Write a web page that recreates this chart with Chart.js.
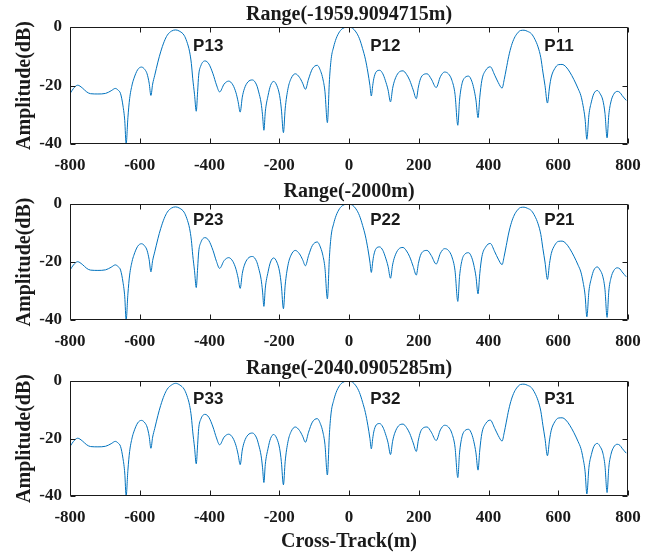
<!DOCTYPE html>
<html>
  <head>
    <meta charset="UTF-8" />
    <script src="https://cdn.jsdelivr.net/npm/chart.js"></script>
    <style>
      body { margin: 0; background: #fff; }
      #wrap { position: relative; width: 668px; height: 554px; }
      #wrap canvas { position: absolute; left: 0; }
    </style>
  </head>
  <body>
    <div id="wrap">
      <canvas id="panel1" width="668" height="177" style="top: 0px"></canvas>
      <canvas id="panel2" width="668" height="177" style="top: 177px"></canvas>
      <canvas id="panel3" width="668" height="200" style="top: 354px"></canvas>
    </div>
    <script>
      // cross-track samples (m), shared by all three range cuts
      const crossTrack = [
        -800, -790, -778, -765, -752, -741, -720, -698, -682, -670,
        -662, -655, -648, -643, -639, -634, -629, -622, -617, -606,
        -595, -585, -579, -573, -568, -563, -557, -548, -540, -530,
        -521, -509, -497, -485, -473, -465, -457, -452, -448, -443,
        -438, -434, -431, -425, -413, -402, -390, -380, -371, -358,
        -345, -333, -324, -318, -312, -306, -300, -290, -277, -265,
        -259, -252, -248, -244, -240, -232, -225, -216, -207, -199,
        -194, -188, -183, -175, -166, -154, -142, -133, -125, -116,
        -105, -91, -81, -75, -69, -62, -56, -51, -44, -37,
        -27, -18, 0, 10, 20, 30, 39, 47, 54, 60,
        64, 68, 71, 78, 88, 97, 104, 112, 119, 125,
        131, 142, 155, 165, 174, 184, 193, 199, 205, 213,
        224, 236, 250, 262, 274, 285, 295, 304, 312, 317,
        324, 333, 343, 352, 358, 364, 370, 375, 381, 392,
        405, 418, 428, 439, 445, 451, 458, 466, 474, 483,
        492, 502, 512, 523, 533, 542, 550, 556, 562, 569,
        575, 580, 590, 600, 611, 622, 633, 645, 657, 665,
        671, 677, 682, 688, 695, 702, 712, 720, 728, 734,
        740, 745, 751, 759, 769, 777, 783, 795
      ];

      // amplitude (dB) at range -1959.9094715 m
      const ampNear = [
        -22.8, -21.0, -19.9, -20.8, -22.2, -22.8, -22.9, -22.7, -21.8, -21.0,
        -21.6, -22.8, -27, -32, -40, -31, -24.5, -19.8, -17.7, -14.6,
        -13.7, -14.6, -16, -19.2, -23.4, -19.5, -16.5, -12, -8.5, -5,
        -2.8, -1.4, -1.0, -1.5, -2.8, -5, -8.5, -12.5, -17.7, -23,
        -28.8, -22, -16.5, -13.3, -11.6, -12.6, -16, -19.8, -22.2, -19.5,
        -18.5, -19.8, -22.5, -25.5, -29.1, -24, -21.1, -18.8, -18.1, -19.8,
        -22.2, -26, -30, -35.3, -29, -23.4, -20, -18.6, -20, -23.4,
        -28, -36.1, -28, -21.1, -17.6, -16, -17.2, -19.2, -21.3, -17.8,
        -14.3, -13.1, -15.2, -17.7, -22, -32.7, -18, -10.8, -6.8, -4.0,
        -1.6, -0.5, 0, -0.4, -1.7, -4.0, -7.4, -11, -15.4, -20,
        -23.6, -20, -17.7, -15.3, -14.8, -16, -18.2, -21.5, -25.6, -21,
        -18.2, -15.6, -15, -16.2, -18.2, -21.5, -24.5, -20.5, -17.7, -16.3,
        -16, -17.8, -20.7, -17, -15.4, -16, -18.2, -23, -33.6, -25,
        -19.4, -17.2, -16.8, -18.5, -21.1, -25, -31.0, -24, -18.2, -14.8,
        -13.6, -16.5, -19, -20.9, -18, -14.3, -10, -6.3, -3.8, -2.1,
        -1.2, -1.1, -1.5, -2.3, -4.2, -6.8, -10.5, -15.4, -20, -26,
        -20.5, -17.1, -14.2, -12.9, -12.8, -13.6, -15.4, -18, -21.1, -23.5,
        -26.8, -31.5, -38.4, -30, -25.6, -22.8, -21.7, -22.8, -25.1, -29.5,
        -37.9, -30, -25.6, -23, -22, -22.4, -23.4, -25.1
      ];

      // amplitude (dB) at range -2000 m
      const ampMid = [
        -22.8, -21.0, -19.9, -20.8, -22.2, -22.8, -22.9, -22.7, -21.8, -21.0,
        -21.6, -22.8, -27, -32, -40, -31, -24.5, -19.8, -17.7, -14.6,
        -13.7, -14.6, -16, -19.2, -23.4, -19.5, -16.5, -12, -8.5, -5,
        -2.8, -1.4, -1.0, -1.5, -2.8, -5, -8.5, -12.5, -17.7, -23,
        -28.8, -22, -16.5, -13.3, -11.6, -12.6, -16, -19.8, -22.2, -19.5,
        -18.5, -19.8, -22.5, -25.5, -29.1, -24, -21.1, -18.8, -18.1, -19.8,
        -22.2, -26, -30, -35.3, -29, -23.4, -20, -18.6, -20, -23.4,
        -28, -36.1, -28, -21.1, -17.6, -16, -17.2, -19.2, -21.3, -17.8,
        -14.3, -13.1, -15.2, -17.7, -22, -32.7, -18, -10.8, -6.8, -4.0,
        -1.6, -0.5, 0, -0.4, -1.7, -4.0, -7.4, -11, -15.4, -20,
        -23.6, -20, -17.7, -15.3, -14.8, -16, -18.2, -21.5, -25.6, -21,
        -18.2, -15.6, -15, -16.2, -18.2, -21.5, -24.5, -20.5, -17.7, -16.3,
        -16, -17.8, -20.7, -17, -15.4, -16, -18.2, -23, -33.6, -25,
        -19.4, -17.2, -16.8, -18.5, -21.1, -25, -31.0, -24, -18.2, -14.8,
        -13.6, -16.5, -19, -20.9, -18, -14.3, -10, -6.3, -3.8, -2.1,
        -1.2, -1.1, -1.5, -2.3, -4.2, -6.8, -10.5, -15.4, -20, -26,
        -20.5, -17.1, -14.2, -12.9, -12.8, -13.6, -15.4, -18, -21.1, -23.5,
        -26.8, -31.5, -38.9, -30, -25.6, -22.8, -21.7, -22.8, -25.1, -29.5,
        -39.1, -30, -25.6, -23, -22, -22.4, -23.4, -25.1
      ];

      // amplitude (dB) at range -2040.0905285 m
      const ampFar = [
        -22.8, -21.0, -19.9, -20.8, -22.2, -22.8, -22.9, -22.7, -21.8, -21.0,
        -21.6, -22.8, -27, -32, -40, -31, -24.5, -19.8, -17.7, -14.6,
        -13.7, -14.6, -16, -19.2, -23.4, -19.5, -16.5, -12, -8.5, -5,
        -2.8, -1.4, -0.8, -1.4, -2.8, -5, -8.5, -12.5, -17.7, -23,
        -28.8, -22, -16.5, -13.3, -11.6, -12.6, -16, -19.8, -22.2, -19.5,
        -18.5, -19.8, -22.5, -25.5, -29.1, -24, -21.1, -18.8, -18.1, -19.8,
        -22.2, -26, -30, -35.3, -29, -23.4, -20, -18.6, -20, -23.4,
        -28, -36.1, -28, -21.1, -17.6, -16, -17.2, -19.2, -21.3, -17.8,
        -14.3, -13.1, -15.2, -17.7, -22, -32.7, -18, -10.8, -6.8, -4.0,
        -1.6, -0.5, 0, -0.4, -1.7, -4.0, -7.4, -11, -15.4, -20,
        -23.6, -20, -17.7, -15.3, -14.8, -16, -18.2, -21.5, -25.6, -21,
        -18.2, -15.6, -15, -16.2, -18.2, -21.5, -24.5, -20.5, -17.7, -16.3,
        -16, -17.8, -20.7, -17, -15.4, -16, -18.2, -23, -33.6, -25,
        -19.4, -17.2, -16.8, -18.5, -21.1, -25, -31.0, -24, -18.2, -14.8,
        -13.6, -16.5, -19, -20.9, -18, -14.3, -10, -6.3, -3.8, -2.1,
        -1.2, -1.1, -1.5, -2.3, -4.2, -6.8, -10.5, -15.4, -20, -26,
        -20.5, -17.1, -14.2, -12.9, -12.8, -13.6, -15.4, -18, -21.1, -23.5,
        -26.8, -31.5, -39.3, -30, -25.6, -22.8, -21.7, -22.8, -25.1, -29.5,
        -38.8, -30, -25.6, -23, -22, -22.4, -23.4, -25.1
      ];

      const rangeTitles = ["Range(-1959.9094715m)", "Range(-2000m)", "Range(-2040.0905285m)"];
      const targetNames = [
        ["P13", "P12", "P11"],
        ["P23", "P22", "P21"],
        ["P33", "P32", "P31"],
      ];
      // where each target name starts (m) and its height (dB)
      const nameX = [-447, 61, 560];
      const nameY = [-6.5, -5.7, -6.2];

      const ink = "#1a1a1a";
      const serif = "'Liberation Serif', 'Times New Roman', serif";

      // closed axes box with inward tick marks, title centred over the axes
      const boxTicks = {
        id: "boxTicks",
        afterDatasetsDraw(chart, args, opts) {
          const { ctx, chartArea: a, scales } = chart;
          const L = Math.round(a.left) + 0.5;
          const R = Math.round(a.right) - 0.5;
          const T = Math.round(a.top) + 0.5;
          const B = Math.round(a.bottom) - 0.5;
          ctx.save();
          ctx.strokeStyle = ink;
          ctx.lineWidth = 1;
          ctx.beginPath();
          scales.x.ticks.forEach(t => {
            const px = Math.round(scales.x.getPixelForValue(t.value)) + 0.5;
            ctx.moveTo(px, B);
            ctx.lineTo(px, B - 5);
            ctx.moveTo(px, T);
            ctx.lineTo(px, T + 5);
          });
          scales.y.ticks.forEach(t => {
            const py = Math.round(scales.y.getPixelForValue(t.value)) + 0.5;
            ctx.moveTo(L, py);
            ctx.lineTo(L + 5, py);
            ctx.moveTo(R, py);
            ctx.lineTo(R - 5, py);
          });
          ctx.rect(L, T, R - L, B - T);
          ctx.stroke();

          ctx.fillStyle = ink;
          ctx.font = "bold 20px " + serif;
          ctx.textAlign = "center";
          ctx.textBaseline = "middle";
          ctx.fillText(opts.title, (a.left + a.right) / 2, a.top - 12);
          ctx.restore();
        },
      };

      const peakNames = {
        id: "peakNames",
        afterDatasetsDraw(chart, args, opts) {
          const { ctx, scales } = chart;
          ctx.save();
          ctx.fillStyle = ink;
          ctx.font = "bold 17px 'Liberation Sans', Arial, sans-serif";
          ctx.textBaseline = "middle";
          ctx.textAlign = "left";
          opts.names.forEach((name, i) => {
            ctx.fillText(name, scales.x.getPixelForValue(nameX[i]), scales.y.getPixelForValue(opts.y));
          });
          ctx.restore();
        },
      };

      function makePanel(id, idx, amps, areaHeight, last) {
        const canvas = document.getElementById(id);
        const xAxisHeight = canvas.height - 27 - areaHeight;
        const tickFont = { family: serif, size: 17, weight: "bold" };
        const labelFont = { family: serif, size: 20, weight: "bold" };

        return new Chart(canvas, {
          type: "line",
          data: {
            datasets: [
              {
                data: crossTrack.map((x, i) => ({ x, y: amps[i] })),
                borderColor: "#0072BD",
                borderWidth: 1,
                pointRadius: 0,
                cubicInterpolationMode: "monotone",
                fill: false,
              },
            ],
          },
          options: {
            responsive: false,
            animation: false,
            devicePixelRatio: 1,
            layout: { padding: { left: 0, right: 40, top: 27, bottom: 0 } },
            plugins: {
              legend: { display: false },
              tooltip: { enabled: false },
              boxTicks: { title: rangeTitles[idx] },
              peakNames: { names: targetNames[idx], y: nameY[idx] },
            },
            scales: {
              x: {
                type: "linear",
                min: -800,
                max: 800,
                ticks: { stepSize: 200, padding: 11, color: ink, font: tickFont, maxRotation: 0 },
                grid: { display: false, drawTicks: false },
                border: { display: false },
                title: {
                  display: last,
                  text: "Cross-Track(m)",
                  color: ink,
                  font: labelFont,
                  padding: { top: 0, bottom: 0 },
                },
                afterFit: s => {
                  s.height = xAxisHeight;
                },
              },
              y: {
                min: -40,
                max: 0,
                ticks: { stepSize: 20, padding: 8, color: ink, font: tickFont },
                grid: { display: false, drawTicks: false },
                border: { display: false },
                title: {
                  display: true,
                  text: "Amplitude(dB)",
                  color: ink,
                  font: labelFont,
                  padding: { top: 13, bottom: 0 },
                },
                afterFit: s => {
                  s.width = 70;
                },
              },
            },
          },
          plugins: [boxTicks, peakNames],
        });
      }

      makePanel("panel1", 0, ampNear, 117, false);
      makePanel("panel2", 1, ampMid, 116, false);
      makePanel("panel3", 2, ampFar, 115, true);
    </script>
  </body>
</html>
